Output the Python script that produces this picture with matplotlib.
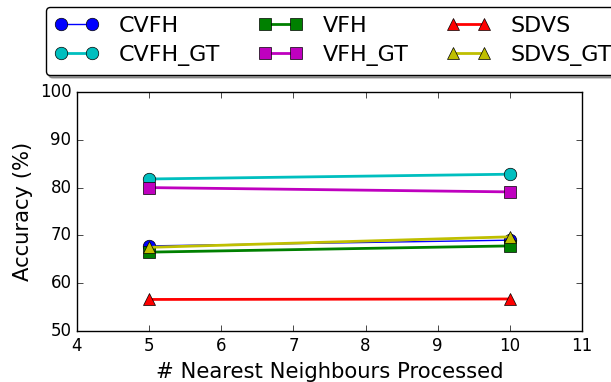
import matplotlib
matplotlib.use("Agg")
import matplotlib.pyplot as plt

plt.style.use("classic")

x = [5, 10]
cvfh = [67.8, 69.0]
cvfh_gt = [81.8, 82.8]
vfh = [66.5, 67.8]
vfh_gt = [80.0, 79.1]
sdvs = [56.6, 56.7]
sdvs_gt = [67.5, 69.7]

fig = plt.figure(figsize=(6.11, 3.82), dpi=100)
ax = fig.add_axes([0.126, 0.1335, 0.8265, 0.6257])

ms = 9
ax.plot(x, cvfh, '-o', color='b', lw=1, ms=ms, label='CVFH')
ax.plot(x, cvfh_gt, '-o', color='c', lw=2, ms=ms, label='CVFH_GT')
ax.plot(x, vfh, '-s', color='g', lw=2, ms=ms, label='VFH')
ax.plot(x, vfh_gt, '-s', color='m', lw=2, ms=ms, label='VFH_GT')
ax.plot(x, sdvs, '-^', color='r', lw=2, ms=ms, label='SDVS')
ax.plot(x, sdvs_gt, '-^', color='y', lw=2, ms=ms, label='SDVS_GT')

ax.set_xlim(4, 11)
ax.set_ylim(50, 100)
ax.set_xticks(range(4, 12))
ax.set_yticks(range(50, 101, 10))
ax.tick_params(labelsize=12)
ax.set_xlabel('# Nearest Neighbours Processed', fontsize=15.2)
ax.set_ylabel('Accuracy (%)', fontsize=15.2)

fig.legend(loc='upper left', bbox_to_anchor=(0.0748, 0.9817), ncol=3,
           fancybox=True, shadow=True, fontsize=16, numpoints=2,
           columnspacing=1.7, labelspacing=0.42, borderaxespad=0,
           handletextpad=0.9)

fig.savefig('out.png', dpi=100)
